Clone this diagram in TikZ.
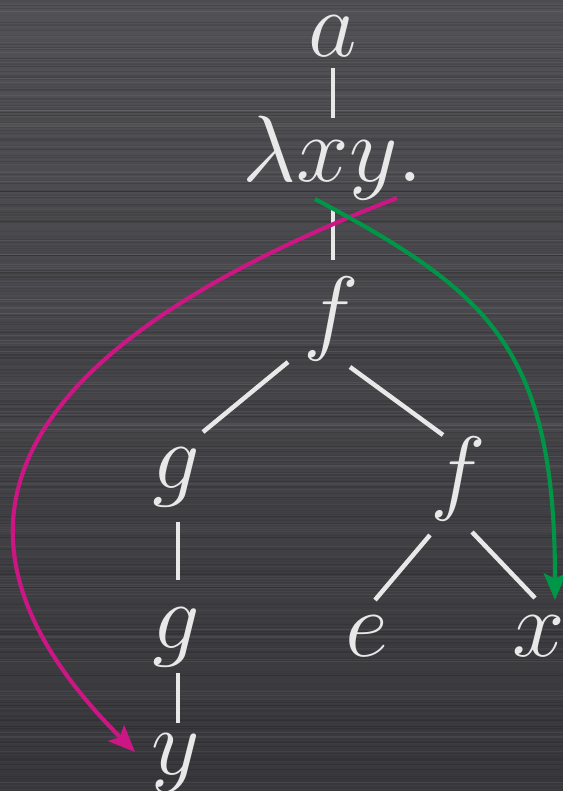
\documentclass[tikz,border=0pt]{standalone}
\usepackage{fix-cm}
\usepackage{tikz}
\usetikzlibrary{arrows.meta,calc}
\definecolor{slideTop}{RGB}{82,82,86}
\definecolor{slideBottom}{RGB}{56,56,60}
\definecolor{chalk}{RGB}{232,232,232}
\definecolor{lamPink}{RGB}{204,22,132}
\definecolor{lamGreen}{RGB}{0,150,72}
\tikzset{
  term/.style={text=chalk, inner sep=0pt, anchor=base, font=\fontsize{67}{78}\selectfont},
  branch/.style={draw=chalk, line width=3.2pt},
  binder/.style={line width=2.9pt, -{Stealth[length=19pt,width=16pt,inset=4pt]}},
}
\begin{document}
\begin{tikzpicture}[x=0.025cm,y=-0.025cm]
    % Slide background
    \shade[top color=slideTop, bottom color=slideBottom] (0,0) rectangle (563,791);
    \useasboundingbox (0,0) rectangle (563,791);
    % Brushed texture
    \pgfmathsetseed{7}
    \foreach \i in {1,...,420} {
        \pgfmathsetmacro\yy{rnd*791}
        \pgfmathsetmacro\op{0.03+rnd*0.08}
        \draw[black, opacity=\op, line width=0.4pt] (0,\yy) -- (563,\yy);
    }
    \foreach \i in {1,...,160} {
        \pgfmathsetmacro\yy{rnd*791}
        \pgfmathsetmacro\op{0.02+rnd*0.05}
        \draw[white, opacity=\op, line width=0.4pt] (0,\yy) -- (563,\yy);
    }

    % Terms
    \node[term] (a) at (333,56) {$a$};
    \node[term] (lam) at (333,181) {$\lambda xy.$};
    \node[term] (f1) at (331,342) {$f$};
    \node[term] (g1) at (176,488) {$g$};
    \node[term] (f2) at (458,502) {$f$};
    \node[term] (g2) at (176,648) {$g$};
    \node[term] (yv) at (176,774) {$y$};
    \node[term] (e) at (367,656) {$e$};
    \node[term] (xv) at (539,656) {$x$};

    % Tree branches
    \draw[branch] ($(a.base)+(0,12)$) -- ($(lam.base)+(0,-63)$);
    \draw[branch] ($(lam.base)+(0,27)$) -- ($(f1.base)+(2,-82)$);
    \draw[branch] ($(f1.base)+(-43,20)$) -- ($(g1.base)+(27,-56)$);
    \draw[branch] ($(f1.base)+(19,25)$) -- ($(f2.base)+(-15,-67)$);
    \draw[branch] ($(g1.base)+(2,34)$) -- ($(g2.base)+(2,-68)$);
    \draw[branch] ($(g2.base)+(2,25)$) -- ($(yv.base)+(2,-51)$);
    \draw[branch] ($(f2.base)+(-28,33)$) -- ($(e.base)+(8,-56)$);
    \draw[branch] ($(f2.base)+(14,30)$) -- ($(xv.base)+(-4,-58)$);

    % Binding arrows
    \draw[binder, lamPink] ($(lam.base)+(64,17)$) .. controls +(-367,142) and +(-235,-235) .. ($(yv.base)+(-41,-22)$);
    \draw[binder, lamGreen] ($(lam.base)+(-18,18)$) .. controls +(176,94) and +(0,-250) .. ($(xv.base)+(16,-56)$);

\end{tikzpicture}
\end{document}
